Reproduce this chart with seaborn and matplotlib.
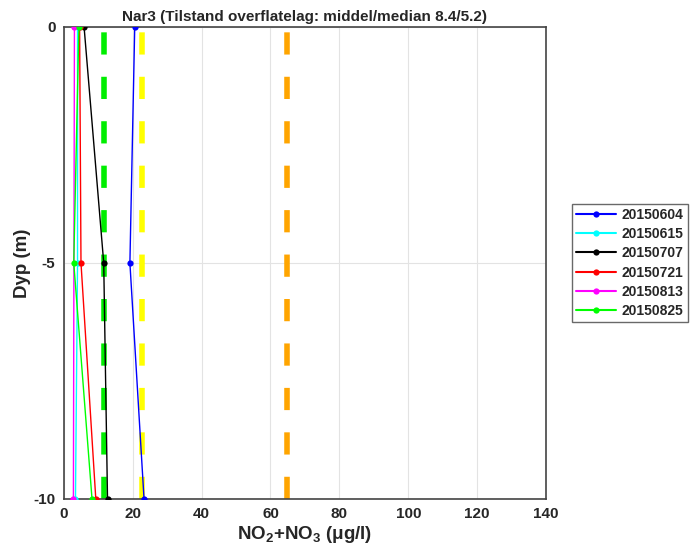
import matplotlib
matplotlib.use("Agg")
import matplotlib.pyplot as plt
import seaborn as sns
import pandas as pd

depths = [0, -5, -10]
dates = ["20150604", "20150615", "20150707", "20150721", "20150813", "20150825"]
v_20150604 = [20.6, 19.2, 23.3]
v_20150615 = [4.0, 4.0, 3.4]
v_20150707 = [5.9, 11.6, 12.7]
v_20150721 = [4.6, 5.0, 9.3]
v_20150813 = [3.1, None, 2.8]
v_20150825 = [4.4, 2.9, 8.2]
colors = ["#0000ff", "#00ffff", "#000000", "#ff0000", "#ff00ff", "#00ff00"]
ref_values = [11.8, 22.8, 64.8]
ref_colors = ["#00ee00", "#ffff00", "#ffa500"]
x_ticks = [0, 20, 40, 60, 80, 100, 120, 140]
y_ticks = [-10, -5, 0]

series = [v_20150604, v_20150615, v_20150707, v_20150721, v_20150813, v_20150825]
rows = []
for d, vals in zip(dates, series):
    for dep, v in zip(depths, vals):
        if v is not None:
            rows.append({"date": d, "depth": dep, "value": v})
df = pd.DataFrame(rows)

sns.set_theme(style="whitegrid")
plt.rcParams["font.family"] = ["Liberation Sans", "DejaVu Sans"]
plt.rcParams["font.weight"] = "bold"
plt.rcParams["mathtext.default"] = "regular"

fig = plt.figure(figsize=(6.93, 5.5), dpi=100)
ax = fig.add_axes([0.092, 0.093, 0.696, 0.858])

for xv, c in zip(ref_values, ref_colors):
    ax.axvline(xv, color=c, lw=4, ls=(0, (4, 4)), zorder=1)

sns.lineplot(data=df, x="value", y="depth", hue="date", hue_order=dates,
             palette=colors, marker="o", markersize=4.5, markeredgewidth=0,
             sort=False, estimator=None, lw=1, ax=ax, zorder=3)

ax.set_xlim(0, 140)
ax.set_ylim(-10, 0)
ax.set_xticks(x_ticks)
ax.set_yticks(y_ticks)
ax.set_xticklabels([str(t) for t in x_ticks], fontsize=11, fontweight="bold")
ax.set_yticklabels([str(t) for t in y_ticks], fontsize=11, fontweight="bold")
ax.tick_params(axis="both", length=0, pad=6)
ax.grid(True, color="#e3e3e3", lw=0.8)
for s in ax.spines.values():
    s.set_visible(True)
    s.set_color("#444444")
    s.set_linewidth(1.2)
ax.set_xlabel(r"NO$_2$+NO$_3$ ($\mu$g/l)", fontsize=13.5, fontweight="bold", labelpad=2)
ax.set_ylabel("Dyp (m)", fontsize=13.5, fontweight="bold", labelpad=2)
ax.set_title("Nar3 (Tilstand overflatelag: middel/median 8.4/5.2)", fontsize=11,
             fontweight="bold", pad=4)

leg = ax.legend(loc="center left", bbox_to_anchor=(1.045, 0.5), fontsize=10,
                frameon=True, fancybox=False, edgecolor="#444444",
                borderpad=0.3, labelspacing=0.38, handlelength=2.9,
                handletextpad=0.4, borderaxespad=0.3)
leg.get_frame().set_linewidth(1.0)
for t in leg.get_texts():
    t.set_fontweight("bold")
for h in leg.get_lines():
    h.set_linewidth(1.5)

fig.savefig("out.png", dpi=100, facecolor="white")
